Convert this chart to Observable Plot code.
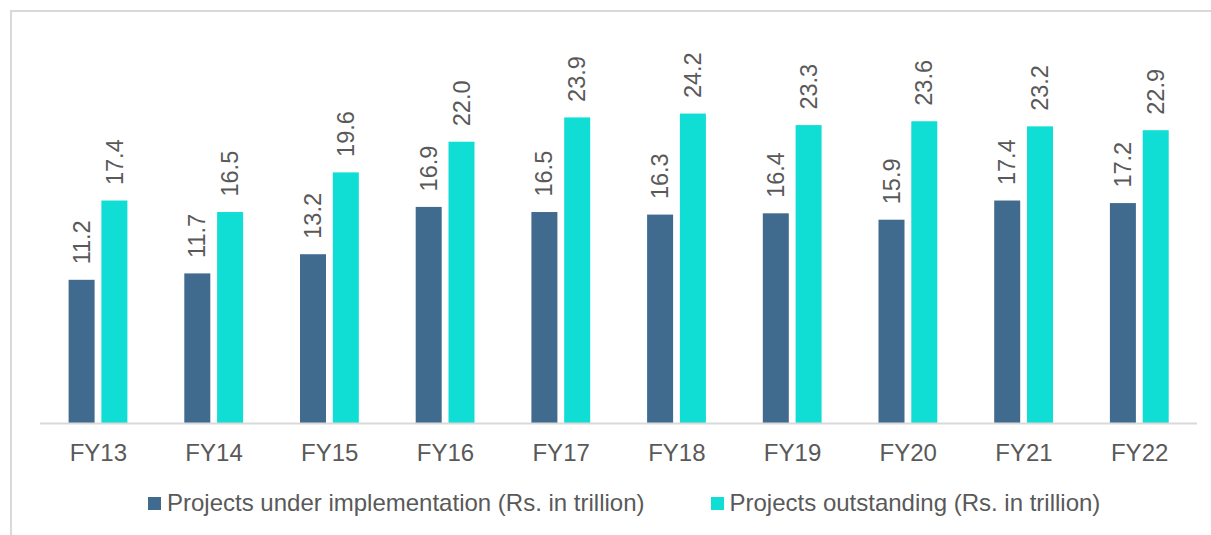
<!DOCTYPE html>
<html>
<head>
<meta charset="utf-8">
<script src="https://cdn.jsdelivr.net/npm/d3@7"></script>
<script src="https://cdn.jsdelivr.net/npm/@observablehq/plot@0.6"></script>
<style>
  html, body { margin: 0; padding: 0; background: #fff; overflow: hidden; }
  body { width: 1211px; height: 535px; position: relative; font-family: "Liberation Sans", Arial, sans-serif; }
  #frame { position: absolute; left: 10px; top: 10px; width: 1400px; height: 800px; border: 2px solid #d9d9d9; box-sizing: border-box; }
  #chart { position: absolute; left: 0; top: 0; }
  #legend { position: absolute; left: 148px; top: 489px; display: flex; align-items: center; font-size: 24px; color: #595959; line-height: 28px; white-space: nowrap; }
  #legend .item { display: flex; align-items: center; }
  #legend .item + .item { margin-left: 66px; }
  #legend .sw { width: 13px; height: 13px; margin-right: 6px; display: inline-block; }
</style>
</head>
<body>
<div id="frame"></div>
<div id="chart"></div>
<div id="legend"></div>
<script>
const categories = ["FY13", "FY14", "FY15", "FY16", "FY17", "FY18", "FY19", "FY20", "FY21", "FY22"];
const seriesNames = ["Projects under implementation (Rs. in trillion)", "Projects outstanding (Rs. in trillion)"];
const seriesColors = ["#416a8f", "#10ddd3"];
const underImplementation = [11.2, 11.7, 13.2, 16.9, 16.5, 16.3, 16.4, 15.9, 17.4, 17.2];
const outstanding = [17.4, 16.5, 19.6, 22.0, 23.9, 24.2, 23.3, 23.6, 23.2, 22.9];

const implData = categories.map((c, i) => ({cat: c, value: underImplementation[i], series: seriesNames[0]}));
const outData = categories.map((c, i) => ({cat: c, value: outstanding[i], series: seriesNames[1]}));

const textColor = "#595959";

const chart = Plot.plot({
  width: 1211,
  height: 470,
  marginLeft: 40,
  marginRight: 14,
  marginTop: 65,
  marginBottom: 47,
  style: {fontFamily: "'Liberation Sans', Arial, sans-serif", background: "transparent", color: textColor},
  x: {domain: categories, padding: 0, round: false, label: null, tickSize: 0, tickPadding: 20, fontSize: 24},
  y: {domain: [0, 28], axis: null},
  color: {domain: seriesNames, range: seriesColors},
  marks: [
    Plot.barY(implData, {x: "cat", y: "value", fill: "series", insetLeft: 28.6, insetRight: 61.1}),
    Plot.barY(outData, {x: "cat", y: "value", fill: "series", insetLeft: 61.4, insetRight: 28.3}),
    Plot.ruleY([0], {stroke: "#d9d9d9", strokeWidth: 2}),
    Plot.text(implData, {x: "cat", y: "value", text: d => d.value.toFixed(1), rotate: -90, textAnchor: "start", lineAnchor: "middle", dx: -16.2, dy: -16, fontSize: 23.5, fill: textColor}),
    Plot.text(outData, {x: "cat", y: "value", text: d => d.value.toFixed(1), rotate: -90, textAnchor: "start", lineAnchor: "middle", dx: 16.7, dy: -16, fontSize: 23.5, fill: textColor})
  ]
});
chart.querySelectorAll("g[aria-label='x-axis tick label']").forEach(el => { el.setAttribute("font-size", "24"); el.setAttribute("fill", textColor); });
document.getElementById("chart").appendChild(chart);

const legend = document.getElementById("legend");
seriesNames.forEach((name, i) => {
  const item = document.createElement("span");
  item.className = "item";
  const sw = document.createElement("span");
  sw.className = "sw";
  sw.style.background = seriesColors[i];
  const label = document.createElement("span");
  label.textContent = name;
  item.appendChild(sw);
  item.appendChild(label);
  legend.appendChild(item);
});
</script>
</body>
</html>
